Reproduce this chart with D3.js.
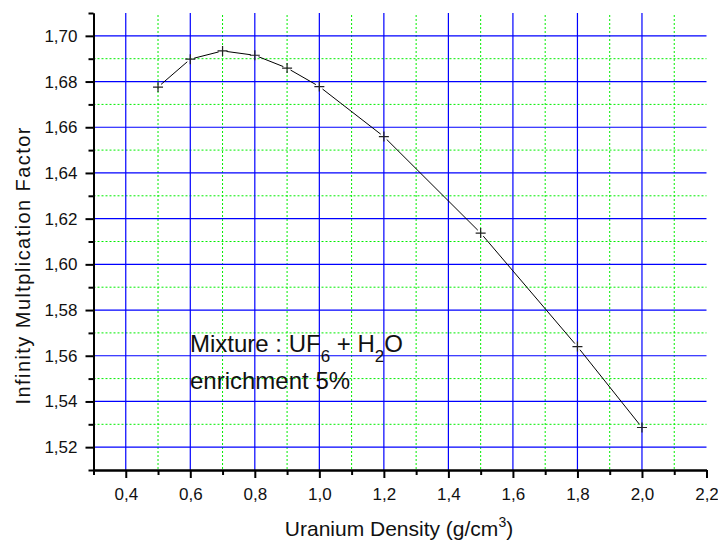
<!DOCTYPE html>
<html>
<head>
<meta charset="utf-8">
<script src="https://cdn.jsdelivr.net/npm/d3@7"></script>
<style>
  body { margin: 0; background: #fff; }
  svg { display: block; font-family: "Liberation Sans", Arial, sans-serif; }
</style>
</head>
<body>
<svg id="chart" width="718" height="541"></svg>
<script>
// data
var density = [0.5, 0.6, 0.7, 0.8, 0.9, 1.0, 1.2, 1.5, 1.8, 2.0];
var kInf = [1.6776, 1.6898, 1.6934, 1.6915, 1.6859, 1.6778, 1.6559, 1.6137, 1.5640, 1.5286];
var xMajor = [0.4, 0.6, 0.8, 1.0, 1.2, 1.4, 1.6, 1.8, 2.0, 2.2];
var xMinor = [0.3, 0.5, 0.7, 0.9, 1.1, 1.3, 1.5, 1.7, 1.9, 2.1];
var yMajor = [1.52, 1.54, 1.56, 1.58, 1.60, 1.62, 1.64, 1.66, 1.68, 1.70];
var yMinor = [1.51, 1.53, 1.55, 1.57, 1.59, 1.61, 1.63, 1.65, 1.67, 1.69, 1.71];

var svg = d3.select("#chart");
var plotL = 93.5, plotR = 706.5, plotT = 13, plotB = 470;

var x = d3.scaleLinear().domain([0.3, 2.2]).range([plotL, plotR]);
var y = d3.scaleLinear().domain([1.51, 1.71]).range([plotB, plotT]);

var fmt = d3.formatLocale({decimal: ",", thousands: ".", grouping: [3], currency: ["", ""]});
var fx = fmt.format(".1f"), fy = fmt.format(".2f");

// grid
var grid = svg.append("g");
grid.selectAll(".gxm").data(xMinor.filter(d => d > 0.31)).enter().append("line")
    .attr("x1", d => x(d)).attr("x2", d => x(d)).attr("y1", plotT + 2).attr("y2", plotB)
    .attr("stroke", "#00ee00").attr("stroke-width", 1).attr("stroke-dasharray", "2,2");
grid.selectAll(".gym").data(yMinor.filter(d => d > 1.515 && d < 1.705)).enter().append("line")
    .attr("x1", plotL).attr("x2", plotR).attr("y1", d => y(d)).attr("y2", d => y(d))
    .attr("stroke", "#00ee00").attr("stroke-width", 1).attr("stroke-dasharray", "2,2");
grid.selectAll(".gx").data(xMajor.filter(d => d < 2.15)).enter().append("line")
    .attr("x1", d => x(d)).attr("x2", d => x(d)).attr("y1", plotT).attr("y2", plotB)
    .attr("stroke", "#0000ff").attr("stroke-width", 1.2);
grid.selectAll(".gy").data(yMajor).enter().append("line")
    .attr("x1", plotL).attr("x2", plotR).attr("y1", d => y(d)).attr("y2", d => y(d))
    .attr("stroke", "#0000ff").attr("stroke-width", 1.2);

// axes
var xAxis = svg.append("g").attr("transform", "translate(0," + plotB + ")")
    .call(d3.axisBottom(x).tickValues(xMajor).tickFormat(fx).tickSize(8).tickSizeOuter(0).tickPadding(10));
var xAxisMinor = svg.append("g").attr("transform", "translate(0," + plotB + ")")
    .call(d3.axisBottom(x).tickValues(xMinor).tickFormat("").tickSize(5).tickSizeOuter(0));
var yAxis = svg.append("g").attr("transform", "translate(" + plotL + ",0)")
    .call(d3.axisLeft(y).tickValues(yMajor).tickFormat(fy).tickSize(8).tickSizeOuter(0).tickPadding(8));
var yAxisMinor = svg.append("g").attr("transform", "translate(" + plotL + ",0)")
    .call(d3.axisLeft(y).tickValues(yMinor).tickFormat("").tickSize(5).tickSizeOuter(0));

[xAxis, xAxisMinor, yAxis, yAxisMinor].forEach(function(a) {
    a.attr("font-size", 17).attr("font-family", "'Liberation Sans', Arial, sans-serif");
    a.selectAll("path, line").attr("stroke", "#000").attr("stroke-width", 2);
    a.selectAll("text").attr("fill", "#111");
});

// line segments, broken a little around each symbol
var pts = kInf.map(function(d, i) { return [x(density[i]), y(d)]; });
var gap = 4;
var segs = d3.pairs(pts).map(function(p) {
    var dx = p[1][0] - p[0][0], dy = p[1][1] - p[0][1];
    var len = Math.sqrt(dx * dx + dy * dy);
    var ux = dx / len, uy = dy / len;
    return [[p[0][0] + ux * gap, p[0][1] + uy * gap], [p[1][0] - ux * gap, p[1][1] - uy * gap]];
});
svg.append("g").selectAll("path").data(segs).enter().append("path")
    .attr("d", d3.line())
    .attr("fill", "none")
    .attr("stroke", "#000")
    .attr("stroke-width", 1);

var marks = svg.selectAll(".mark").data(kInf).enter().append("g")
    .attr("transform", function(d, i) { return "translate(" + x(density[i]) + "," + y(d) + ")"; });
marks.append("path")
    .attr("d", "M-5,0H5M0,-5V5")
    .attr("stroke", "#222")
    .attr("stroke-width", 1.2);

// axis titles
svg.append("text")
    .attr("x", 399).attr("y", 536)
    .attr("text-anchor", "middle").attr("font-size", 21).attr("fill", "#111")
    .html('Uranium Density (g/cm<tspan dy="-9" font-size="14">3</tspan><tspan dy="9">)</tspan>');

svg.append("text")
    .attr("transform", "translate(30,266) rotate(-90)")
    .attr("text-anchor", "middle").attr("font-size", 20).attr("fill", "#111")
    .attr("textLength", 277).attr("lengthAdjust", "spacing")
    .text("Infinity Multplication Factor");

// annotation
var note = svg.append("g").attr("font-size", 24).attr("fill", "#111");
note.append("text").attr("x", 190).attr("y", 352)
    .html('Mixture : UF<tspan dy="10" font-size="17">6</tspan><tspan dy="-10"> + H</tspan><tspan dy="10" font-size="17">2</tspan><tspan dy="-10">O</tspan>');
note.append("text").attr("x", 190).attr("y", 389).text("enrichment 5%");
</script>
</body>
</html>
